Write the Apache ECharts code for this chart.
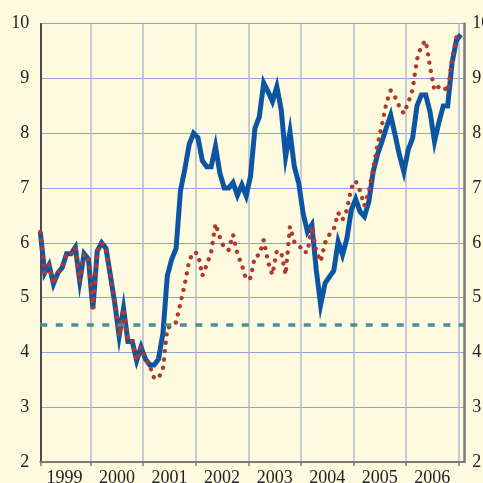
<!DOCTYPE html>
<html>
<head>
<meta charset="utf-8">
<script src="https://cdn.jsdelivr.net/npm/echarts@6/dist/echarts.min.js"></script>
<style>
html,body{margin:0;padding:0;background:#fdfadf;}
#chart{width:483px;height:483px;}
</style>
</head>
<body>
<div id="chart"></div>
<script>
// Monthly index: 0 = Jan 1999 ... 96 = Jan 2007
const yearLabels = ['1999','2000','2001','2002','2003','2004','2005','2006'];
const yearCenters = [5.5, 17.5, 29.5, 41.5, 53.5, 65.5, 77.5, 89.5];
const yearBoundaries = [0, 11.5, 23.5, 35.5, 47.5, 59.5, 71.5, 83.5, 95.5];
const thresholdValue = 4.5;

const blueSeries = [
  6.2, 5.45, 5.6, 5.25, 5.45, 5.55, 5.8, 5.8, 5.92, 5.3, 5.8, 5.7,
  4.8, 5.85, 6.0, 5.9, 5.4, 4.9, 4.3, 4.8, 4.2, 4.2, 3.85, 4.1,
  3.88, 3.77, 3.77, 3.88, 4.35, 5.4, 5.7, 5.9, 6.95, 7.35, 7.8, 8.0,
  7.92, 7.5, 7.39, 7.39, 7.76, 7.27, 7.0, 7.0, 7.1, 6.87, 7.06, 6.86,
  7.22, 8.09, 8.3, 8.92, 8.76, 8.58, 8.85, 8.43, 7.57, 8.03, 7.39, 7.09,
  6.54, 6.2, 6.33, 5.51, 4.87, 5.26, 5.38, 5.49, 6.02, 5.78, 6.08, 6.6,
  6.8, 6.57, 6.48, 6.75, 7.3, 7.62, 7.85, 8.1, 8.33, 7.97, 7.6, 7.3,
  7.7, 7.91, 8.5, 8.7, 8.7, 8.38, 7.85, 8.2, 8.5, 8.5, 9.28, 9.7,
  9.8
];
const redSeries = [
  6.2, 5.45, 5.6, 5.25, 5.45, 5.55, 5.8, 5.8, 5.92, 5.3, 5.8, 5.7,
  4.8, 5.85, 6.0, 5.9, 5.4, 4.9, 4.3, 4.8, 4.2, 4.2, 3.85, 4.1,
  3.88, 3.75, 3.53, 3.53, 3.7, 4.45, 4.48, 4.55, 4.9, 5.25, 5.68, 5.83,
  5.8, 5.4, 5.6, 5.83, 6.35, 6.1, 5.9, 5.87, 6.15, 5.8, 5.6, 5.33,
  5.36, 5.75, 5.78, 6.05, 5.65, 5.42, 5.85, 5.82, 5.42, 6.3, 6.02, 5.97,
  5.83, 5.83, 6.3, 5.85, 5.66, 6.0, 6.15, 6.25, 6.55, 6.42, 6.6, 7.0,
  7.13, 6.95, 6.68, 6.95, 7.35, 7.8, 8.15, 8.55, 8.78, 8.66, 8.48, 8.36,
  8.56, 8.8, 9.35, 9.6, 9.69, 9.2, 8.78, 8.85, 8.86, 8.76, 9.35, 9.75,
  9.81
];

const chart = echarts.init(document.getElementById('chart'), null, {renderer: 'canvas'});
const font = 'Liberation Serif';
const option = {
  backgroundColor: '#fdfadf',
  animation: false,
  grid: {left: 40.3, right: 18.7, top: 23.7, bottom: 21, containLabel: false, outerBoundsMode: 'none'},
  xAxis: {
    type: 'value', min: 0, max: 96.8, interval: 12,
    axisLine: {show: true, onZero: false, lineStyle: {color: '#7a7a7a', width: 2}},
    axisTick: {show: true, customValues: yearBoundaries, length: 4, inside: false, lineStyle: {color: '#7a7a7a', width: 1.5}},
    axisLabel: {
      customValues: yearCenters, margin: 7, hideOverlap: false,
      fontFamily: font, fontSize: 18, color: '#222',
      formatter: v => yearLabels[Math.round((v - 5.5) / 12)]
    },
    splitLine: {show: true, lineStyle: {color: '#b3bbd6', width: 1.5}}
  },
  yAxis: [
    {
      type: 'value', min: 2, max: 10, interval: 1, position: 'left',
      axisLine: {show: true, onZero: false, lineStyle: {color: '#222', width: 1.5}},
      axisTick: {show: false},
      axisLabel: {margin: 11, fontFamily: font, fontSize: 18, color: '#222'},
      splitLine: {show: true, lineStyle: {color: '#8e9fd9', width: 1}}
    },
    {
      type: 'value', min: 2, max: 10, interval: 1, position: 'right',
      axisLine: {show: true, onZero: false, lineStyle: {color: '#7a7a7a', width: 2.5}},
      axisTick: {show: false},
      axisLabel: {margin: 8, fontFamily: font, fontSize: 18, color: '#222'},
      splitLine: {show: false}
    }
  ],
  series: [
    {
      type: 'line', name: 'blue', z: 2,
      data: blueSeries.map((v, i) => [i, v]),
      showSymbol: false, symbol: 'none',
      lineStyle: {color: '#0b55a3', width: 5, join: 'miter'}
    },
    {
      type: 'line', name: 'red', z: 3,
      data: redSeries.map((v, i) => [i, v]),
      showSymbol: false, symbol: 'none',
      lineStyle: {color: '#b0392e', width: 4.3, type: [0.1, 8.3], cap: 'round', join: 'round'}
    },
    {
      type: 'line', name: 'threshold', z: 4, data: [],
      markLine: {
        silent: true, symbol: ['none', 'none'], label: {show: false},
        lineStyle: {color: '#4f8c97', width: 3.5, type: [7, 8.5]},
        data: [{yAxis: thresholdValue}]
      }
    }
  ]
};
chart.setOption(option);
</script>
</body>
</html>
